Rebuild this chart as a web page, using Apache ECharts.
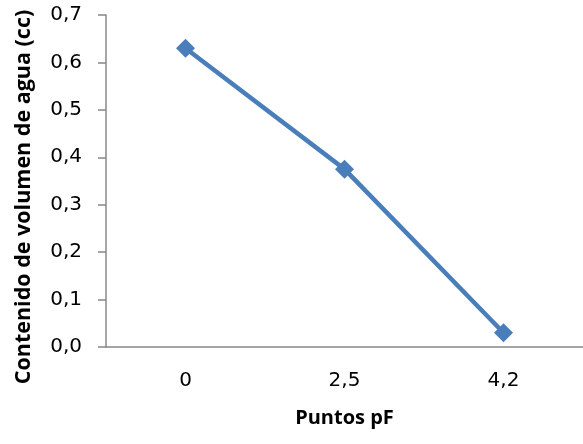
<!DOCTYPE html>
<html>
<head>
<meta charset="utf-8">
<script src="https://cdn.jsdelivr.net/npm/echarts@6/dist/echarts.min.js"></script>
<style>
html,body{margin:0;padding:0;background:#fff;}
#c{width:583px;height:444px;}
</style>
</head>
<body>
<div id="c"></div>
<script>
const categories = ['0', '2,5', '4,2'];
const values = [0.63, 0.375, 0.03];
const yTitle = 'Contenido de volumen de agua (cc)';
const xTitle = 'Puntos pF';

const chart = echarts.init(document.getElementById('c'), null, {renderer: 'canvas'});
const font = 'Open Sans';
const tickFont = 'DejaVu Sans';
chart.setOption({
  animation: false,
  backgroundColor: '#ffffff',
  grid: {left: 106, right: -6, top: 15, bottom: 97, containLabel: false},
  xAxis: {
    type: 'category',
    data: categories,
    boundaryGap: true,
    name: xTitle,
    nameLocation: 'middle',
    nameGap: 61,
    nameTextStyle: {fontFamily: font, fontWeight: 'bold', fontSize: 20, color: '#000'},
    axisLine: {lineStyle: {color: '#888888', width: 1.5}},
    axisTick: {show: false},
    axisLabel: {fontFamily: tickFont, fontSize: 20, color: '#000', margin: 24},
    splitLine: {show: false}
  },
  yAxis: {
    type: 'value',
    min: 0, max: 0.7, interval: 0.1,
    name: yTitle,
    nameLocation: 'middle',
    nameRotate: 90,
    nameGap: 71,
    nameTextStyle: {fontFamily: font, fontWeight: 'bold', fontSize: 21.5, color: '#000',
      padding: [0, 32, 0, 0]},
    axisLine: {show: true, lineStyle: {color: '#888888', width: 1.5}},
    axisTick: {show: true, length: 8, inside: false, lineStyle: {color: '#888888', width: 1.5}},
    axisLabel: {fontFamily: tickFont, fontSize: 20, color: '#000', margin: 24,
      formatter: v => v.toFixed(1).replace('.', ',')},
    splitLine: {show: false}
  },
  series: [{
    type: 'line',
    data: values,
    symbol: 'diamond',
    symbolSize: 19,
    lineStyle: {color: '#4A7EBB', width: 4.5},
    itemStyle: {color: '#4A7EBB'},
    clip: false
  }]
});
</script>
</body>
</html>
